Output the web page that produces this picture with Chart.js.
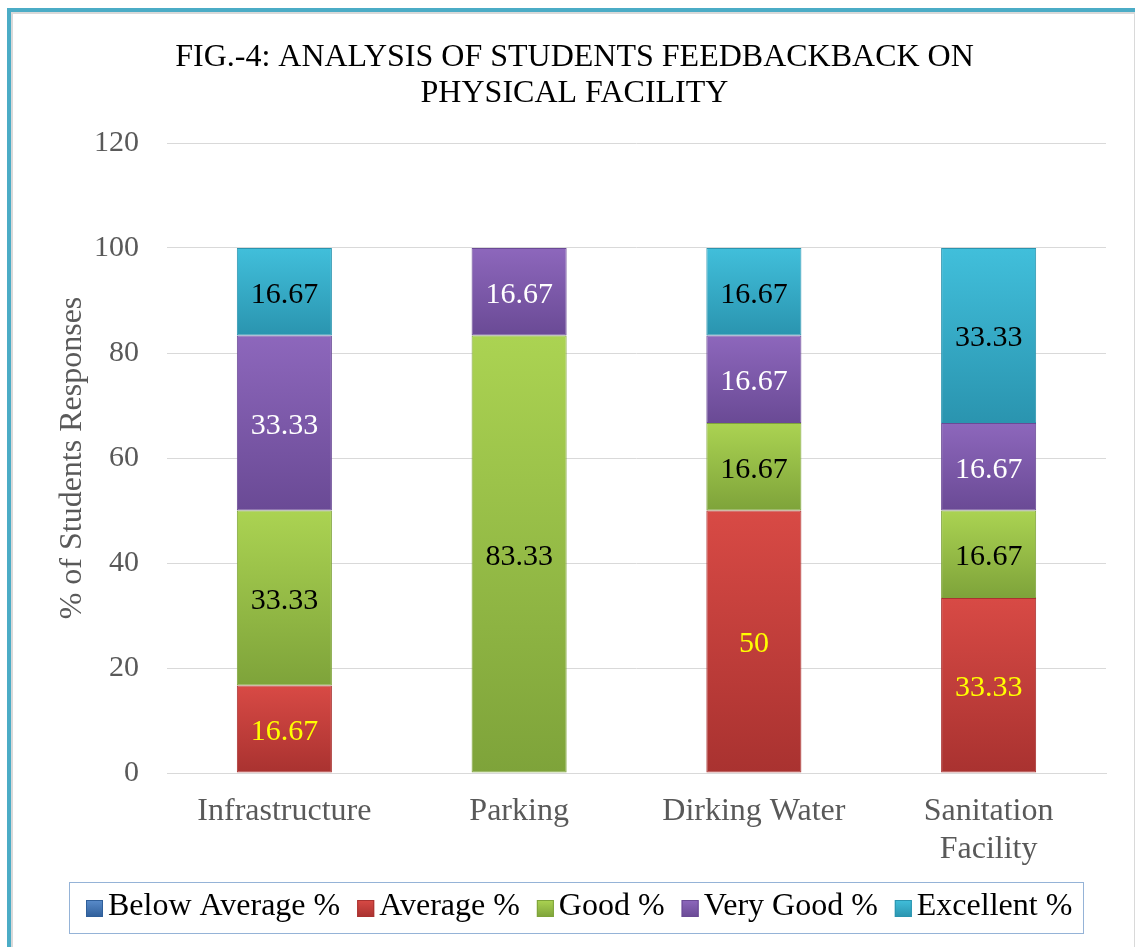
<!DOCTYPE html>
<html>
<head>
<meta charset="utf-8">
<script src="https://cdn.jsdelivr.net/npm/chart.js@4"></script>
<style>
  html, body { margin: 0; padding: 0; background: #fff; overflow: hidden; }
  #frame {
    position: absolute; left: 7px; top: 8px; width: 1124px; height: 960px;
    border-top: 4px solid #4bacc6; border-left: 4px solid #4bacc6;
  }
  #inner {
    position: absolute; left: 0; top: 0; right: 0; bottom: 0;
    border-top: 2px solid #d9d9d9; border-left: 2px solid #d9d9d9; border-right: 1px solid #d9d9d9;
  }
  #wrap { position: absolute; left: 0; top: 0; width: 1135px; height: 947px; }
</style>
</head>
<body>
<div id="frame"><div id="inner"></div></div>
<div id="wrap"><canvas id="feedbackChart"></canvas></div>
<script>
const categories = ['Infrastructure', 'Parking', 'Dirking Water', ['Sanitation', 'Facility']];
const seriesNames = ['Below Average %', 'Average %', 'Good %', 'Very Good %', 'Excellent %'];
const belowAverage = [0, 0, 0, 0];
const average = [16.67, 0, 50, 33.33];
const good = [33.33, 83.33, 16.67, 16.67];
const veryGood = [33.33, 16.67, 16.67, 16.67];
const excellent = [16.67, 0, 16.67, 33.33];
const yTicks = [0, 20, 40, 60, 80, 100, 120];

const seriesData = [belowAverage, average, good, veryGood, excellent];
// light (top) / dark (bottom) shades for the bevel look
const shades = [
  ['#5a8ccb', '#2f5f9a'],
  ['#d84a45', '#a93230'],
  ['#abd352', '#7ea33a'],
  ['#8d67bc', '#6a4a95'],
  ['#41bfdb', '#2a94af']
];
const labelColors = ['#000', '#ffff00', '#000', '#fff', '#000'];
const serif = 'Liberation Serif';

function barFill(i) {
  return function(ctx) {
    const chart = ctx.chart;
    if (ctx.type !== 'data' || !chart.chartArea || !chart.scales.y) return shades[i][0];
    let base = 0;
    for (let k = 0; k < ctx.datasetIndex; k++) base += seriesData[k][ctx.dataIndex];
    const y0 = chart.scales.y.getPixelForValue(base + ctx.raw);
    const y1 = chart.scales.y.getPixelForValue(base);
    if (!isFinite(y0) || !isFinite(y1) || y1 - y0 < 1) return shades[i][0];
    const g = chart.ctx.createLinearGradient(0, y0, 0, y1);
    g.addColorStop(0, shades[i][0]);
    g.addColorStop(1, shades[i][1]);
    return g;
  };
}

// value labels in the middle of each segment
const segmentLabels = {
  id: 'segmentLabels',
  afterDatasetsDraw(chart) {
    const ctx = chart.ctx;
    ctx.save();
    ctx.font = '30px "' + serif + '"';
    ctx.textAlign = 'center';
    ctx.textBaseline = 'middle';
    chart.data.datasets.forEach((ds, i) => {
      chart.getDatasetMeta(i).data.forEach((bar, j) => {
        const v = ds.data[j];
        if (!v) return;
        ctx.fillStyle = labelColors[i];
        ctx.fillText(String(v), bar.x, (bar.y + bar.base) / 2 + 3);
      });
    });
    ctx.restore();
  }
};

// title sits a little left of the centre of the canvas
const shiftTitle = {
  id: 'shiftTitle',
  afterLayout(chart) {
    chart.titleBlock.left -= 13;
    chart.titleBlock.right -= 13;
  }
};

// legend markers sit close to their text, and a thin frame goes round the legend
const legendFrame = {
  id: 'legendFrame',
  afterDraw(chart) {
    const lg = chart.legend;
    if (!lg || !lg.legendHitBoxes.length) return;
    const boxes = lg.legendHitBoxes;
    const ctx = chart.ctx;
    ctx.save();
    boxes.forEach((b, i) => {
      const x = b.left + 11, y = b.top + b.height / 2 - 7;
      const g = ctx.createLinearGradient(0, y, 0, y + 17);
      g.addColorStop(0, shades[i][0]);
      g.addColorStop(1, shades[i][1]);
      ctx.fillStyle = g;
      ctx.fillRect(x, y, 17, 17);
      ctx.strokeStyle = shades[i][1];
      ctx.lineWidth = 1;
      ctx.strokeRect(x + 0.5, y + 0.5, 16, 16);
    });
    const left = Math.min(...boxes.map(b => b.left)) - 6;
    const right = Math.max(...boxes.map(b => b.left + b.width)) + 11;
    ctx.strokeStyle = '#95b3d7';
    ctx.lineWidth = 1;
    ctx.strokeRect(Math.round(left) + 0.5, 882.5, Math.round(right - left), 51);
    ctx.restore();
  }
};

const datasets = seriesNames.map((name, i) => ({
  label: name,
  data: seriesData[i],
  backgroundColor: barFill(i),
  borderColor: shades[i][1],
  borderWidth: ctx => (ctx.raw ? 1 : 0),
  borderSkipped: false
}));

new Chart(document.getElementById('feedbackChart'), {
  type: 'bar',
  data: { labels: categories, datasets: datasets },
  options: {
    responsive: true,
    maintainAspectRatio: false,
    animation: false,
    categoryPercentage: 1,
    barPercentage: 0.405,
    layout: { padding: { left: 69, right: 29, top: 0, bottom: 14 } },
    plugins: {
      title: {
        display: true,
        text: ['FIG.-4: ANALYSIS OF STUDENTS FEEDBACKBACK ON', 'PHYSICAL FACILITY'],
        color: '#000',
        font: { family: serif, size: 32, weight: 'normal', lineHeight: 1.125 },
        padding: { top: 40, bottom: 31 }
      },
      legend: {
        position: 'bottom',
        align: 'start',
        labels: {
          color: '#595959',
          font: { family: serif, size: 32 },
          boxWidth: 17,
          boxHeight: 17,
          padding: 6,
          generateLabels: () => seriesNames.map((name, i) => ({
            text: name,
            fillStyle: 'rgba(0,0,0,0)',
            strokeStyle: 'rgba(0,0,0,0)',
            lineWidth: 0,
            datasetIndex: i
          }))
        }
      },
      tooltip: { enabled: false }
    },
    scales: {
      x: {
        stacked: true,
        grid: { display: false },
        border: { color: '#d9d9d9' },
        ticks: { color: '#595959', font: { family: serif, size: 32 }, padding: 11, maxRotation: 0 },
        afterFit: s => { s.height = 112; }
      },
      y: {
        stacked: true,
        min: 0,
        max: 120,
        afterBuildTicks: s => { s.ticks = yTicks.map(v => ({ value: v })); },
        grid: { color: '#d9d9d9', drawTicks: false },
        border: { display: false },
        ticks: { color: '#595959', font: { family: serif, size: 30 }, padding: 28 },
        title: {
          display: true,
          text: '% of Students Responses',
          color: '#595959',
          font: { family: serif, size: 32 },
          padding: { top: -16, bottom: 0 }
        },
        afterFit: s => { s.width = 98; }
      }
    }
  },
  plugins: [segmentLabels, shiftTitle, legendFrame]
});
</script>
</body>
</html>
